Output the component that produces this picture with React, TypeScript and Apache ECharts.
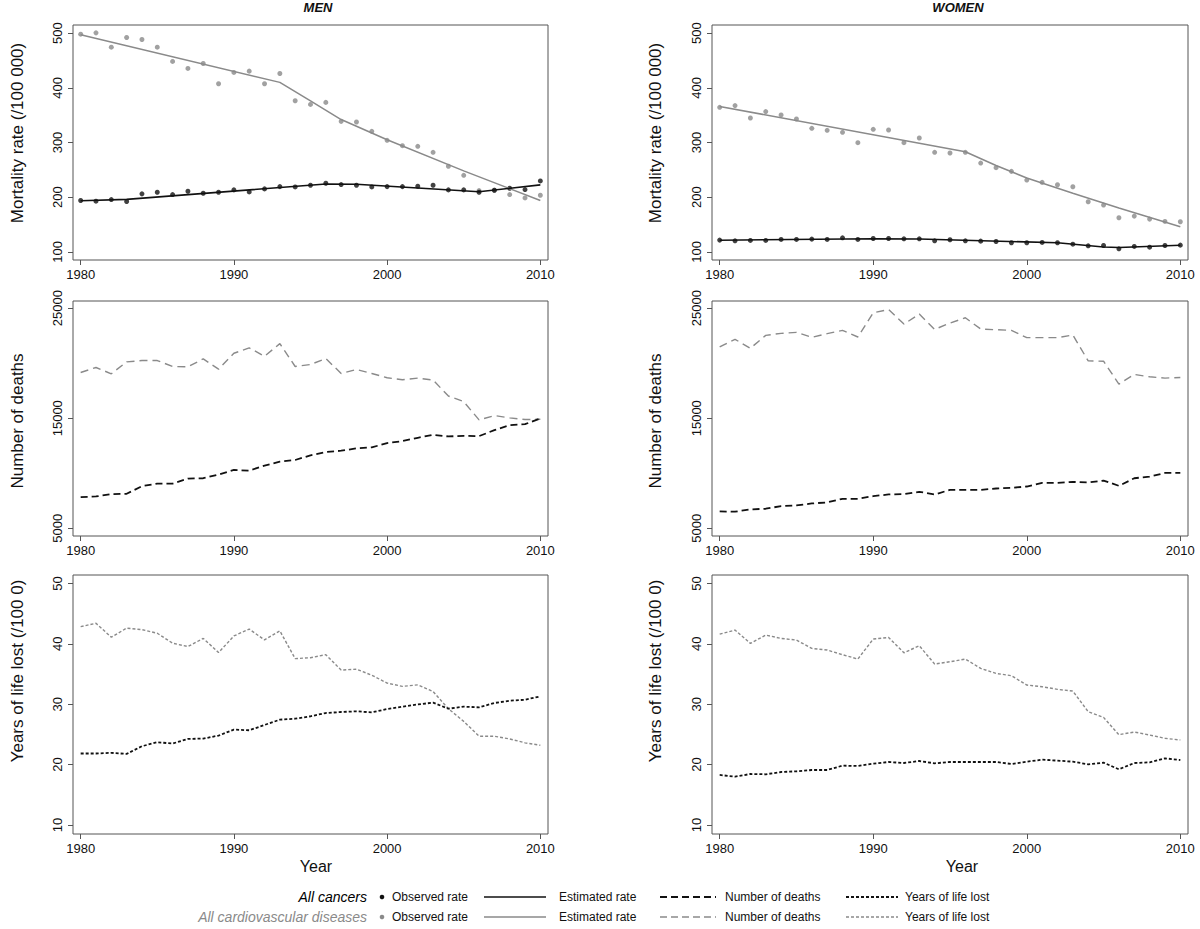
import React, { useEffect, useRef } from "react";
import * as echarts from "echarts";

const years = [1980, 1981, 1982, 1983, 1984, 1985, 1986, 1987, 1988, 1989, 1990, 1991, 1992, 1993, 1994, 1995, 1996, 1997, 1998, 1999, 2000, 2001, 2002, 2003, 2004, 2005, 2006, 2007, 2008, 2009, 2010];

// Mortality rate (/100 000) - observed
const menCancerObs = [193.8, 192.6, 195.6, 192, 206, 209, 204.7, 210.8, 207.2, 209, 213.3, 209.6, 215.1, 219.3, 218.7, 221.8, 225.4, 223, 221.8, 218.7, 219.3, 219.3, 220, 221.8, 213.3, 213.3, 209, 212.6, 216.3, 213.9, 229.7];
const menCvdObs = [498.2, 500.6, 474.4, 492.1, 488.4, 474.4, 448.3, 435.5, 444.6, 407.5, 428.2, 430.6, 407.5, 426.3, 376.4, 369.7, 373.4, 338.7, 337.5, 320.4, 304, 294.2, 293, 282, 256.5, 240, 212, 212.6, 204.7, 198.6, 203.5];
const womenCancerObs = [121.4, 120.1, 120.8, 120.8, 122.6, 122.6, 123.2, 122.6, 125.6, 122.6, 124.4, 124.4, 123.8, 123.8, 120.1, 122, 120.1, 119.5, 118.9, 116.5, 116.5, 117.1, 116.5, 114, 111, 111.6, 105.5, 109.8, 108.5, 111.6, 112.2];
const womenCvdObs = [364.4, 367.5, 344.9, 356.5, 350.4, 343, 326, 322.3, 318.6, 299.7, 324.1, 322.9, 299.7, 308.2, 282, 280.8, 282, 262.4, 253.9, 247.2, 231.3, 227, 222.7, 219.1, 191.6, 185.5, 162.3, 165.3, 159.8, 155.6, 155];

// Mortality rate - estimated (joinpoint knots)
const menCancerEstYears = [1980, 1983, 1996, 1998, 2006, 2010];
const menCancerEst = [193.5, 196, 224, 223.5, 210, 222.5];
const menCvdEstYears = [1980, 1993, 1995, 1997, 2000, 2005, 2010];
const menCvdEst = [497, 410, 376, 342, 305, 248, 194];
const womenCancerEstYears = [1980, 1990, 1993, 2002, 2005, 2006, 2010];
const womenCancerEst = [121.2, 124, 123.5, 116.5, 108.8, 107.8, 112];
const womenCvdEstYears = [1980, 1996, 1998, 2000, 2003, 2006, 2010];
const womenCvdEst = [366, 283, 258, 235, 207, 180, 146];

// Number of deaths
const menCancerDeaths = [7832, 7892, 8103, 8133, 8826, 9066, 9066, 9518, 9548, 9880, 10301, 10241, 10693, 11054, 11205, 11627, 11928, 12048, 12259, 12350, 12741, 12922, 13223, 13494, 13343, 13404, 13374, 13916, 14368, 14458, 14970];
const menCvdDeaths = [19157, 19609, 19036, 20120, 20241, 20241, 19699, 19669, 20392, 19458, 20904, 21386, 20633, 21777, 19699, 19880, 20422, 19066, 19428, 19066, 18675, 18494, 18645, 18464, 17018, 16506, 14850, 15241, 15030, 14880, 14910];
const womenCancerDeaths = [6536, 6506, 6717, 6777, 7018, 7078, 7259, 7350, 7681, 7681, 7922, 8073, 8103, 8314, 8073, 8495, 8495, 8495, 8615, 8675, 8796, 9127, 9127, 9217, 9157, 9338, 8856, 9548, 9699, 10030, 10030];
const womenCvdDeaths = [21476, 22169, 21356, 22530, 22711, 22801, 22349, 22681, 22982, 22380, 24578, 24880, 23554, 24458, 23072, 23645, 24127, 23102, 23042, 22982, 22319, 22319, 22319, 22560, 20211, 20181, 18103, 18976, 18765, 18645, 18705];

// Years of life lost
const menCancerYll = [21.83, 21.83, 21.94, 21.77, 23.04, 23.7, 23.48, 24.25, 24.3, 24.8, 25.8, 25.68, 26.56, 27.44, 27.6, 28, 28.54, 28.71, 28.82, 28.65, 29.2, 29.59, 29.97, 30.25, 29.26, 29.59, 29.48, 30.2, 30.58, 30.74, 31.3];
const menCvdYll = [42.85, 43.4, 41.1, 42.6, 42.35, 41.75, 40.1, 39.55, 40.9, 38.55, 41.3, 42.45, 40.65, 42.15, 37.55, 37.7, 38.2, 35.65, 35.8, 34.8, 33.5, 32.95, 33.2, 32.1, 29.25, 27.15, 24.7, 24.7, 24.25, 23.6, 23.2];
const womenCancerYll = [18.28, 18.0, 18.44, 18.39, 18.77, 18.88, 19.1, 19.1, 19.82, 19.77, 20.15, 20.43, 20.26, 20.59, 20.21, 20.43, 20.43, 20.43, 20.43, 20.1, 20.48, 20.81, 20.65, 20.48, 20.04, 20.32, 19.21, 20.26, 20.37, 21.03, 20.76];
const womenCvdYll = [41.6, 42.28, 40.07, 41.45, 40.9, 40.62, 39.24, 38.97, 38.2, 37.48, 40.79, 41.06, 38.52, 39.68, 36.65, 37.03, 37.48, 35.93, 35.1, 34.72, 33.17, 32.9, 32.46, 32.18, 28.76, 27.82, 24.95, 25.39, 24.9, 24.35, 24.07];

const xTicks = [1980, 1990, 2000, 2010];
const rateTicks = [100, 200, 300, 400, 500];
const deathTicks = [5000, 15000, 25000];
const yllTicks = [10, 20, 30, 40, 50];

const columnTitles = ["MEN", "WOMEN"];
const rowTitles = ["Mortality rate (/100 000)", "Number of deaths", "Years of life lost (/100 0)"];
const legendGroups = ["All cancers", "All cardiovascular diseases"];
const legendItems = ["Observed rate", "Estimated rate", "Number of deaths", "Years of life lost"];

const FONT = "'Liberation Sans', Arial, Helvetica, sans-serif";
const BLACK = "#111111";
const GRAY = "#8a8a8a";
const AXIS = "#555555";

function pairs(xs: number[], ys: number[]) {
  return xs.map((x, i) => [x, ys[i]]);
}

export default function App() {
  const ref = useRef<HTMLDivElement>(null);

  useEffect(() => {
    if (!ref.current) return;
    const chart = echarts.init(ref.current, null, { renderer: "svg" });

    const colLeft = [73, 712];
    const colWidth = [475, 476];
    const rowTop = [25, 301, 575];
    const rowHeight = [235, 235, 259];
    const yRanges = [
      { min: 85, max: 515, ticks: rateTicks },
      { min: 4300, max: 25650, ticks: deathTicks },
      { min: 8.5, max: 51.4, ticks: yllTicks },
    ];

    const grids: any[] = [];
    const xAxes: any[] = [];
    const yAxes: any[] = [];
    for (let r = 0; r < 3; r++) {
      for (let c = 0; c < 2; c++) {
        grids.push({
          left: colLeft[c],
          top: rowTop[r],
          width: colWidth[c],
          height: rowHeight[r],
          show: true,
          borderColor: AXIS,
          borderWidth: 1,
          backgroundColor: "transparent",
          containLabel: false,
        });
        const gi = r * 2 + c;
        xAxes.push({
          type: "value",
          gridIndex: gi,
          min: 1979.5,
          max: 2010.5,
          axisLine: { show: false },
          splitLine: { show: false },
          axisTick: { show: true, customValues: xTicks, length: 5, lineStyle: { color: AXIS, width: 1 } },
          axisLabel: { show: true, customValues: xTicks, margin: 8, color: "#111", fontSize: 13, fontFamily: FONT, formatter: (v: number) => String(v) },
        });
        yAxes.push({
          type: "value",
          gridIndex: gi,
          min: yRanges[r].min,
          max: yRanges[r].max,
          axisLine: { show: false },
          splitLine: { show: false },
          axisTick: { show: true, customValues: yRanges[r].ticks, length: 5, lineStyle: { color: AXIS, width: 1 } },
          axisLabel: { show: true, customValues: yRanges[r].ticks, rotate: 90, margin: 9, color: "#111", fontSize: 13, fontFamily: FONT, formatter: (v: number) => String(v) },
        });
      }
    }

    const line = (gi: number, data: any[], color: string, width: number, dash: any, z = 3) => ({
      type: "line",
      xAxisIndex: gi,
      yAxisIndex: gi,
      data,
      symbol: "none",
      silent: true,
      z,
      lineStyle: { color, width, type: dash },
    });
    const dots = (gi: number, data: any[], color: string) => ({
      type: "scatter",
      xAxisIndex: gi,
      yAxisIndex: gi,
      data,
      symbol: "circle",
      symbolSize: 5,
      silent: true,
      z: 2,
      itemStyle: { color },
    });

    const series: any[] = [
      dots(0, pairs(years, menCvdObs), GRAY),
      line(0, pairs(menCvdEstYears, menCvdEst), GRAY, 1.5, "solid"),
      dots(0, pairs(years, menCancerObs), BLACK),
      line(0, pairs(menCancerEstYears, menCancerEst), BLACK, 1.6, "solid", 4),
      dots(1, pairs(years, womenCvdObs), GRAY),
      line(1, pairs(womenCvdEstYears, womenCvdEst), GRAY, 1.5, "solid"),
      dots(1, pairs(years, womenCancerObs), BLACK),
      line(1, pairs(womenCancerEstYears, womenCancerEst), BLACK, 1.6, "solid", 4),
      line(2, pairs(years, menCvdDeaths), GRAY, 1.4, [8, 5]),
      line(2, pairs(years, menCancerDeaths), BLACK, 1.8, [7, 4]),
      line(3, pairs(years, womenCvdDeaths), GRAY, 1.4, [8, 5]),
      line(3, pairs(years, womenCancerDeaths), BLACK, 1.8, [7, 4]),
      line(4, pairs(years, menCvdYll), GRAY, 1.4, [3, 2]),
      line(4, pairs(years, menCancerYll), BLACK, 1.8, [3, 2]),
      line(5, pairs(years, womenCvdYll), GRAY, 1.4, [3, 2]),
      line(5, pairs(years, womenCancerYll), BLACK, 1.8, [3, 2]),
    ];

    const txt = (x: number, y: number, text: string, opts: any = {}) => ({
      type: "text",
      x,
      y,
      rotation: opts.rotation || 0,
      silent: true,
      style: {
        text,
        fill: opts.fill || "#111",
        fontSize: opts.fontSize || 12,
        fontFamily: FONT,
        fontStyle: opts.fontStyle || "normal",
        fontWeight: opts.fontWeight || "normal",
        align: opts.align || "left",
        verticalAlign: "middle",
        textAlign: opts.align || "left",
        textVerticalAlign: "middle",
      },
    });

    const graphics: any[] = [];
    graphics.push(txt(318, 7, columnTitles[0], { fontSize: 13, fontStyle: "italic", fontWeight: "bold", align: "center" }));
    graphics.push(txt(958, 7, columnTitles[1], { fontSize: 13, fontStyle: "italic", fontWeight: "bold", align: "center" }));
    const titleY = [133, 421, 671];
    const titleX = [17, 655];
    for (let r = 0; r < 3; r++) {
      for (let c = 0; c < 2; c++) {
        graphics.push(txt(titleX[c], titleY[r], rowTitles[r], { fontSize: 17, align: "center", rotation: Math.PI / 2 }));
      }
    }
    graphics.push(txt(316, 866, "Year", { fontSize: 16, align: "center" }));
    graphics.push(txt(962, 866, "Year", { fontSize: 16, align: "center" }));

    const rowsY = [897, 917];
    const colors = [BLACK, GRAY];
    for (let i = 0; i < 2; i++) {
      const y = rowsY[i];
      const col = colors[i];
      graphics.push(txt(367, y, legendGroups[i], { fontSize: 14, fontStyle: "italic", align: "right", fill: i === 0 ? "#000" : GRAY }));
      graphics.push({ type: "circle", silent: true, shape: { cx: 382, cy: y, r: 2.3 }, style: { fill: col } });
      graphics.push(txt(392, y, legendItems[0], { fontSize: 12 }));
      graphics.push({ type: "line", silent: true, shape: { x1: 484, y1: y, x2: 546, y2: y }, style: { stroke: col, lineWidth: 1.6 } });
      graphics.push(txt(559, y, legendItems[1], { fontSize: 12 }));
      graphics.push({ type: "line", silent: true, shape: { x1: 660, y1: y, x2: 716, y2: y }, style: { stroke: col, lineWidth: i === 0 ? 1.8 : 1.4, lineDash: [7, 4] } });
      graphics.push(txt(725, y, legendItems[2], { fontSize: 12 }));
      graphics.push({ type: "line", silent: true, shape: { x1: 846, y1: y, x2: 898, y2: y }, style: { stroke: col, lineWidth: i === 0 ? 1.8 : 1.4, lineDash: [3, 2] } });
      graphics.push(txt(905, y, legendItems[3], { fontSize: 12 }));
    }

    chart.setOption({
      animation: false,
      backgroundColor: "#ffffff",
      textStyle: { fontFamily: FONT },
      grid: grids,
      xAxis: xAxes,
      yAxis: yAxes,
      series,
      graphic: graphics,
    });

    return () => {
      chart.dispose();
    };
  }, []);

  return <div ref={ref} style={{ position: "absolute", left: 0, top: 0, width: 1200, height: 929 }} />;
}
